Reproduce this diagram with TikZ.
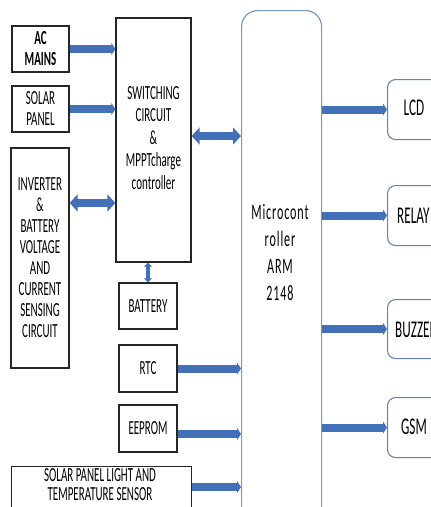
\documentclass[tikz,border=0pt]{standalone}
\usepackage{fontspec}
\setmainfont{Carlito}[FakeStretch=0.55]
\usetikzlibrary{arrows.meta,calc}
\definecolor{arrblue}{RGB}{66,112,185}
\definecolor{mcblue}{RGB}{120,150,200}
\definecolor{rbblue}{RGB}{95,130,190}
\tikzset{
  blk/.style={draw=black!85, line width=1.3pt, inner sep=0pt, align=center, font=\fontsize{20}{21}\selectfont},
  rbox/.style={draw=rbblue, line width=1.1pt, rounded corners=8pt, inner sep=0pt},
  rtxt/.style={font=\fontsize{24}{24}\selectfont, inner sep=0pt},
  mcbox/.style={draw=mcblue, line width=1.2pt, rounded corners=16pt, inner sep=0pt},
  arr/.style={draw=arrblue, line width=8pt, -{Triangle[width=12pt,length=4pt]}},
  darr/.style={draw=arrblue, line width=8pt, {Triangle[width=17pt,length=8pt]}-{Triangle[width=17pt,length=8pt]}},
  sarr/.style={draw=arrblue, line width=4pt, {Triangle[width=8pt,length=4pt]}-{Triangle[width=8pt,length=4pt]}}
}
\begin{document}
\begin{tikzpicture}[x=1pt,y=-1pt]
\useasboundingbox (0,0) rectangle (431,507);
\clip (0,0) rectangle (431,507);
% left column
\node[blk, minimum width=57pt, minimum height=46pt, font=\fontsize{20}{21}\selectfont\bfseries] (ac) at (40.5,49) {AC\\MAINS};
\node[blk, minimum width=57pt, minimum height=46pt] (sp) at (40.5,109) {SOLAR\\PANEL};
\node[blk, minimum width=58pt, minimum height=220pt] (inv) at (40,258) {INVERTER\\\&\\BATTERY\\VOLTAGE\\AND\\CURRENT\\SENSING\\CIRCUIT};
% middle column
\node[blk, minimum width=75pt, minimum height=244pt] (sw) at (153.5,140) {};
\node[align=center, font=\fontsize{20}{22.5}\selectfont, inner sep=0pt] (swt) at (153.5,138) {SWITCHING\\CIRCUIT\\\&\\MPPTcharge\\controller};
\node[blk, minimum width=58pt, minimum height=46pt] (bat) at (148,306) {BATTERY};
\node[blk, minimum width=58pt, minimum height=47pt] (rtc) at (148,368.5) {RTC};
\node[blk, minimum width=58pt, minimum height=47pt] (eep) at (148,428.5) {EEPROM};
\node[blk, minimum width=180pt, minimum height=60pt, anchor=north west] (sl) at (11,466) {};
\node[align=center, font=\fontsize{20}{19}\selectfont, inner sep=0pt] (slt) at (100,485) {SOLAR PANEL LIGHT AND\\TEMPERATURE SENSOR};
% microcontroller
\node[mcbox, minimum width=80pt, minimum height=520pt, anchor=north west] (mc) at (241,10) {};
\node[align=center, font=\fontsize{22}{27}\selectfont\addfontfeatures{LetterSpace=4}, inner sep=0pt] (mct) at (280,253) {Microcont\\roller\\ARM\\2148};
% right column
\node[rbox, minimum width=60pt, minimum height=60pt, anchor=north west] (lcd) at (387,79) {};
\node[rtxt] (lcdt) at (414,108) {LCD};
\node[rbox, minimum width=60pt, minimum height=60pt, anchor=north west] (rel) at (387,185) {};
\node[rtxt, anchor=west] (relt) at (397,216) {RELAY};
\node[rbox, minimum width=60pt, minimum height=59pt, anchor=north west] (buz) at (387,299) {};
\node[rtxt, anchor=west] (buzt) at (395,330) {BUZZER};
\node[rbox, minimum width=60pt, minimum height=60pt, anchor=north west] (gsm) at (387,397) {};
\node[rtxt] (gsmt) at (414,427) {GSM};
% coordinates
\coordinate (yinv) at (0,203);
\coordinate (ymc) at (0,136);
\coordinate (yeep) at (0,434);
\coordinate (ysl) at (0,487);
% connectors
\draw[arr] (ac.east) -- (ac.east -| sw.west);
\draw[arr] (sp.east) -- (sp.east -| sw.west);
\draw[darr] (inv.east |- yinv) -- (sw.west |- yinv);
\draw[darr] (sw.east |- ymc) -- (mc.west |- ymc);
\draw[sarr] (bat.north) -- (bat.north |- sw.south);
\draw[arr] (rtc.east) -- (rtc.east -| mc.west);
\draw[arr] (eep.east |- yeep) -- (mc.west |- yeep);
\draw[arr] (sl.east |- ysl) -- (mc.west |- ysl);
\draw[arr] (mc.east |- lcd.west) -- (lcd.west);
\draw[arr] (mc.east |- rel.west) -- (rel.west);
\draw[arr] (mc.east |- buz.west) -- (buz.west);
\draw[arr] (mc.east |- gsm.west) -- (gsm.west);
\end{tikzpicture}
\end{document}
